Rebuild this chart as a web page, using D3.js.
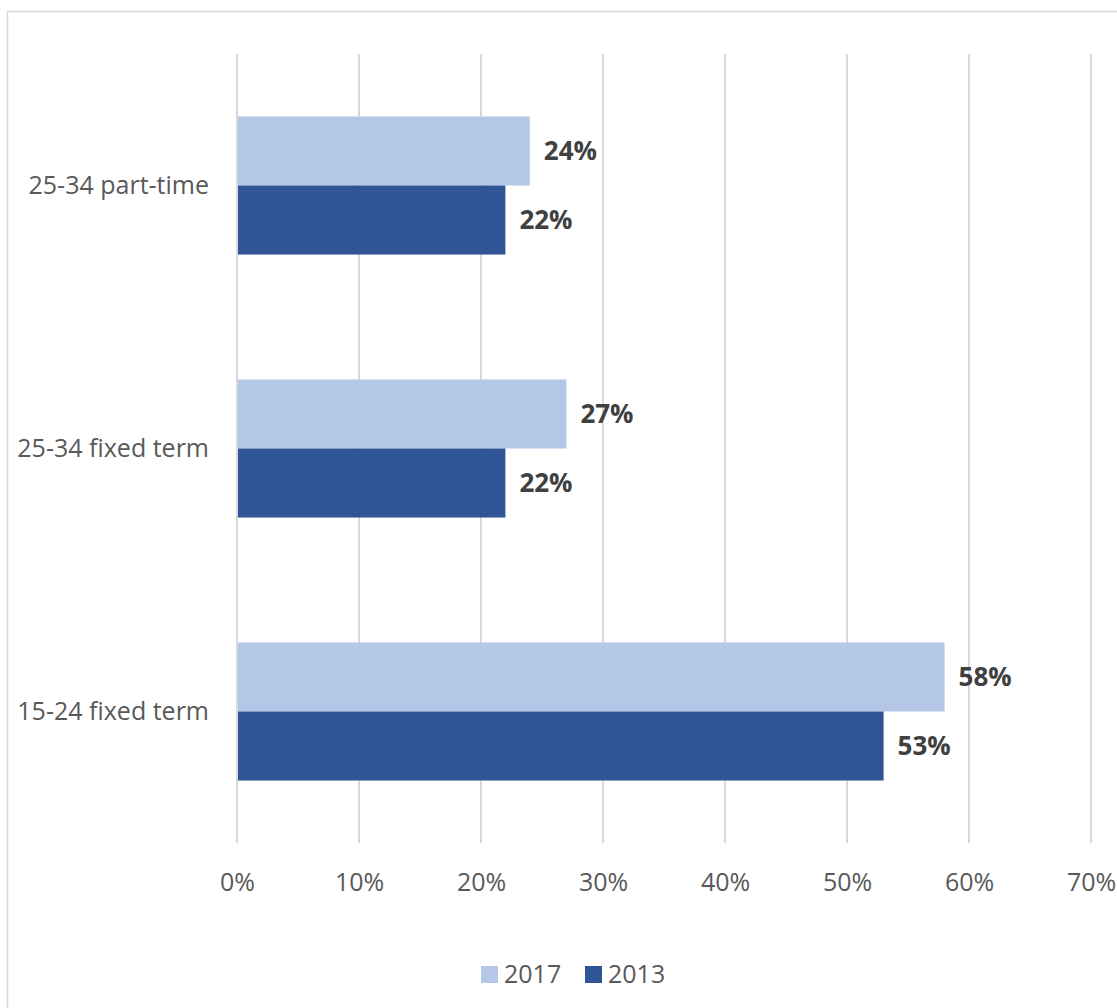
<!DOCTYPE html>
<html><head><meta charset="utf-8">
<script src="https://cdn.jsdelivr.net/npm/d3@7"></script>
<style>
html,body{margin:0;padding:0;background:#fff;}
svg{display:block;font-family:"Open Sans",sans-serif;}
</style></head>
<body>
<svg id="chart" width="1117" height="1008"></svg>
<script>
const categories = ["25-34 part-time", "25-34 fixed term", "15-24 fixed term"];
const seriesNames = ["2017", "2013"];
const values2017 = [24, 27, 58];
const values2013 = [22, 22, 53];
const tickValues = [0, 10, 20, 30, 40, 50, 60, 70];
const colors = ["#b4c7e7", "#2f5597"];
const FONT = "'Open Sans',sans-serif";

const svg = d3.select("#chart");
// outer border
svg.append("rect").attr("x", 7.5).attr("y", 11.5).attr("width", 1130).attr("height", 1020)
  .attr("fill", "none").attr("stroke", "#d9d9d9").attr("stroke-width", 1.5);

const x = d3.scaleLinear().domain([0, 70]).range([237, 1091]);
const y = d3.scaleBand().domain(categories).range([54, 843]).paddingInner(0.475).paddingOuter(0.2375);
const ySub = d3.scaleBand().domain(seriesNames).range([0, y.bandwidth()]);

// gridlines
svg.append("g").selectAll("line").data(tickValues).join("line")
  .attr("x1", d => x(d)).attr("x2", d => x(d))
  .attr("y1", 54).attr("y2", 843)
  .attr("stroke", "#d9d9d9").attr("stroke-width", 2);

// x axis labels
const xAxis = d3.axisBottom(x).tickValues(tickValues).tickFormat(d => d + "%").tickSize(0).tickPadding(0);
const gx = svg.append("g").attr("transform", "translate(0,882)").call(xAxis);
gx.select(".domain").remove();
gx.selectAll("text").attr("fill", "#595959").style("font-size", "25px")
  .attr("dy", "0.35em").attr("y", 0).style("font-family", FONT);

// y axis labels
const yAxis = d3.axisLeft(y).tickSize(0).tickPadding(0);
const gy = svg.append("g").attr("transform", "translate(209,0)").call(yAxis);
gy.select(".domain").remove();
gy.selectAll("text").attr("fill", "#595959").style("font-size", "25px")
  .style("font-family", FONT);

const data = [];
categories.forEach((c, i) => {
  data.push({cat: c, s: "2017", v: values2017[i]});
  data.push({cat: c, s: "2013", v: values2013[i]});
});

svg.append("g").selectAll("rect").data(data).join("rect")
  .attr("x", x(0) + 1)
  .attr("y", d => y(d.cat) + ySub(d.s))
  .attr("width", d => x(d.v) - x(0) - 1)
  .attr("height", ySub.bandwidth())
  .attr("fill", d => colors[seriesNames.indexOf(d.s)]);

svg.append("g").selectAll("text").data(data).join("text")
  .attr("x", d => x(d.v) + 14)
  .attr("y", d => y(d.cat) + ySub(d.s) + ySub.bandwidth() / 2)
  .attr("dy", "0.35em")
  .attr("fill", "#404040")
  .style("font-size", "26px").style("font-weight", "bold")
  .text(d => d.v + "%");

// legend
const legend = svg.append("g");
const legX = [481, 585];
seriesNames.forEach((s, i) => {
  legend.append("rect").attr("x", legX[i]).attr("y", 966).attr("width", 17).attr("height", 17).attr("fill", colors[i]);
  legend.append("text").attr("x", legX[i] + 23).attr("y", 974.5).attr("dy", "0.35em")
    .attr("fill", "#595959").style("font-size", "25px").text(s);
});
</script>
</body></html>
